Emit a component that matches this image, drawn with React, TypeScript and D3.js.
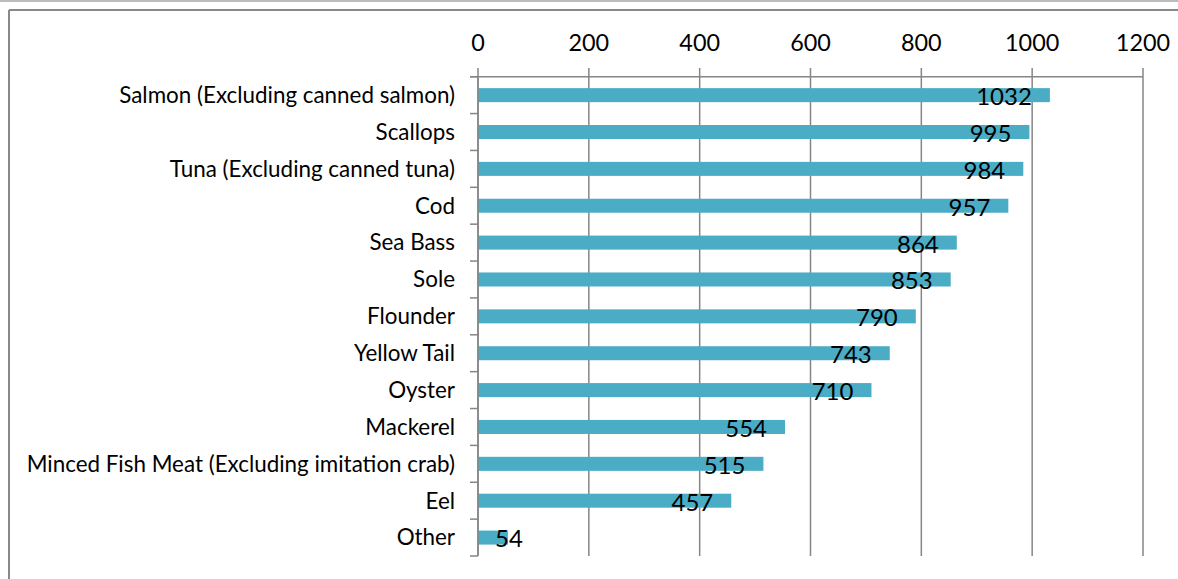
import React from "react";
import * as d3 from "d3";

const categories = [
  "Salmon (Excluding canned salmon)",
  "Scallops",
  "Tuna (Excluding canned tuna)",
  "Cod",
  "Sea Bass",
  "Sole",
  "Flounder",
  "Yellow Tail",
  "Oyster",
  "Mackerel",
  "Minced Fish Meat (Excluding imitation crab)",
  "Eel",
  "Other",
];
const values = [1032, 995, 984, 957, 864, 853, 790, 743, 710, 554, 515, 457, 54];
const xTicks = [0, 200, 400, 600, 800, 1000, 1200];

const W = 1178;
const H = 579;
const FONT = "Lato, 'Open Sans', sans-serif";
const GRID = "#868686";
const BAR = "#4BACC6";

export default function App() {
  const x = d3.scaleLinear().domain([0, 1200]).range([478, 1143]);
  const y = d3
    .scaleBand<string>()
    .domain(categories)
    .range([76.7, 556])
    .paddingInner(0.62)
    .paddingOuter(0.31);
  const step = y.step();
  const top = 76.7;
  const bottom = 556;
  const tickFs = 23.4;
  const labelFs = 24;
  const catFs = 22.4;
  const digitW = labelFs * 0.534;

  return (
    <div style={{ position: "fixed", left: 0, top: 0 }}>
      <svg width={W} height={H} style={{ display: "block", background: "#fff" }}>
        <line x1={0} x2={W} y1={1} y2={1} stroke="#a6a6a6" strokeWidth={1.5} />
        <line x1={9} x2={W} y1={10} y2={10} stroke="#898989" strokeWidth={2} />
        <line x1={9} x2={9} y1={10} y2={H} stroke="#898989" strokeWidth={2} />

        {xTicks.map((t) => (
          <g key={t}>
            <line x1={x(t)} x2={x(t)} y1={68} y2={bottom} stroke={GRID} strokeWidth={1.5} />
            <text
              x={x(t)}
              y={51}
              textAnchor="middle"
              fontFamily={FONT}
              fontSize={tickFs}
              fill="#000"
            >
              {t}
            </text>
          </g>
        ))}
        <line x1={470} x2={x(1200)} y1={top} y2={top} stroke={GRID} strokeWidth={1.5} />
        {d3.range(categories.length + 1).map((i) => (
          <line
            key={i}
            x1={470}
            x2={x(0)}
            y1={top + i * step}
            y2={top + i * step}
            stroke={GRID}
            strokeWidth={1.5}
          />
        ))}

        {categories.map((c, i) => {
          const yb = y(c)!;
          const cy = yb + y.bandwidth() / 2;
          const v = values[i];
          const end = x(v);
          const tw = String(v).length * digitW;
          let lx = end - 18;
          let anchor: "end" | "start" = "end";
          if (lx - tw < x(0) + 17) {
            lx = x(0) + 17;
            anchor = "start";
          }
          return (
            <g key={c}>
              <rect x={x(0)} y={yb} width={end - x(0)} height={y.bandwidth()} fill={BAR} />
              <text
                x={455}
                y={cy}
                dy="0.35em"
                textAnchor="end"
                fontFamily={FONT}
                fontSize={catFs}
                fill="#000"
              >
                {c}
              </text>
              <text
                x={lx}
                y={cy + 1.5}
                dy="0.35em"
                textAnchor={anchor}
                fontFamily={FONT}
                fontSize={labelFs}
                fill="#000"
              >
                {v}
              </text>
            </g>
          );
        })}
        <line x1={x(0)} x2={x(0)} y1={top} y2={bottom} stroke={GRID} strokeWidth={1.5} />
      </svg>
    </div>
  );
}
